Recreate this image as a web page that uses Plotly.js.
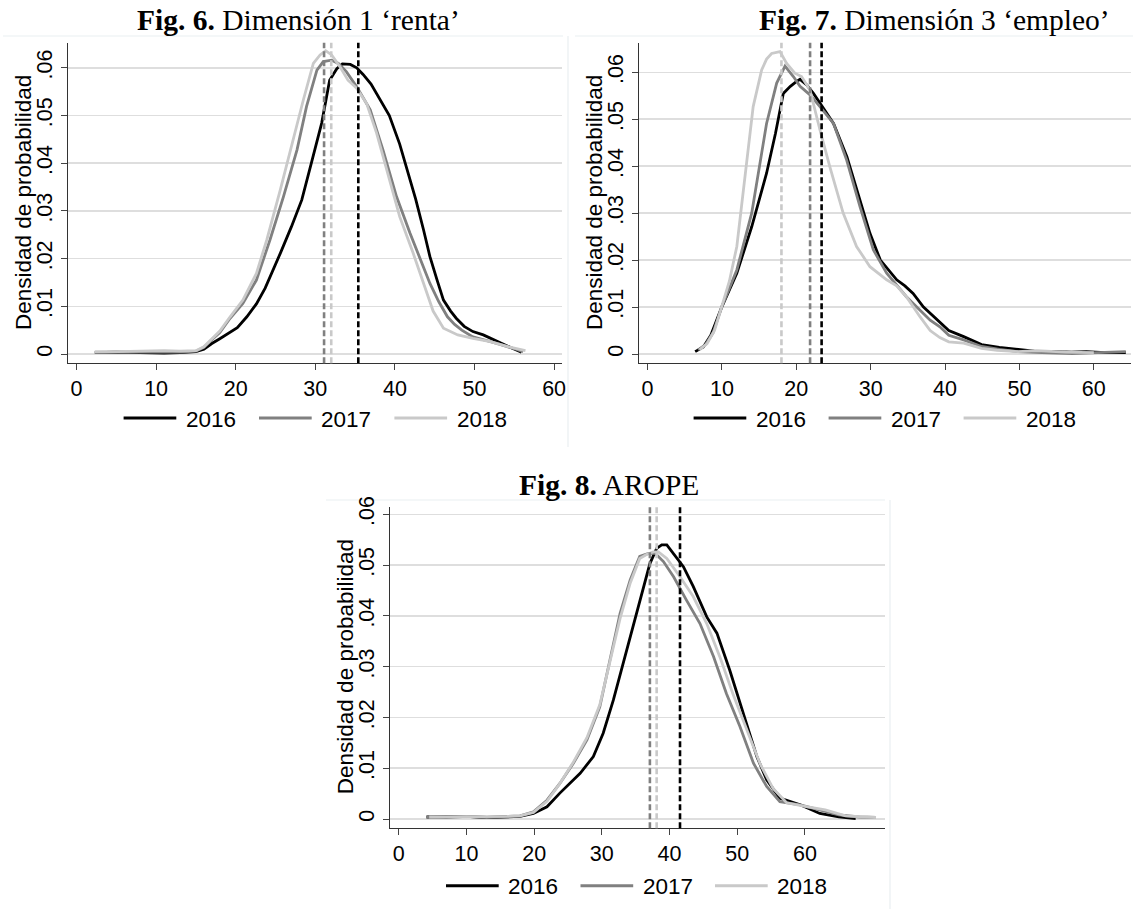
<!DOCTYPE html>
<html>
<head>
<meta charset="utf-8">
<script src="https://cdn.plot.ly/plotly-3.0.1.min.js"></script>
<style>html,body{margin:0;padding:0;background:#fff;}#chart{width:1133px;height:909px;}</style>
</head>
<body>
<div id="chart"></div>
<script>
// ---------------- DATA ----------------
const years = ['2016', '2017', '2018'];
const xTickVals = [0, 10, 20, 30, 40, 50, 60];
const yTickVals = [0, 0.01, 0.02, 0.03, 0.04, 0.05, 0.06];
const yTickText = ['0', '.01', '.02', '.03', '.04', '.05', '.06'];
const yTitle = 'Densidad de probabilidad';

// Fig. 6 – Dimensión 1 'renta'
const fig6Title = '<b>Fig. 6.</b> Dimensión 1 ‘renta’';
const fig6_x2016 = [2.3, 5, 8, 11, 13, 15, 16, 17, 18, 19.3, 20.2, 21.4, 22.6, 23.7, 24.6, 25.6, 27.0, 28.3, 29.5, 30.8, 31.8, 32.7, 33.4, 34.4, 35.2, 36.0, 37.0, 37.7, 38.5, 39.3, 40.6, 41.7, 42.6, 43.6, 44.4, 45.3, 46.1, 47.0, 47.7, 48.7, 49.8, 51.1, 52.2, 53.4, 54.6, 55.9];
const fig6_y2016 = [0.0003, 0.0004, 0.0003, 0.0002, 0.0003, 0.0005, 0.0010, 0.0022, 0.0032, 0.0045, 0.0055, 0.0078, 0.0105, 0.0138, 0.0172, 0.0211, 0.0267, 0.0323, 0.0400, 0.0484, 0.0574, 0.0598, 0.0608, 0.0607, 0.0600, 0.0586, 0.0566, 0.0545, 0.0522, 0.0500, 0.0440, 0.0375, 0.0325, 0.0260, 0.0204, 0.0155, 0.0113, 0.0090, 0.0075, 0.0058, 0.0047, 0.0040, 0.0031, 0.0022, 0.0013, 0.0004];
const fig6_x2017 = [2.3, 5, 8, 11, 13, 15, 16, 17, 18, 19.3, 20.9, 22.6, 24.3, 26.0, 27.7, 28.9, 30.2, 31.0, 32.05, 32.9, 33.9, 35.2, 36.9, 38.5, 40.2, 41.9, 43.6, 44.4, 45.5, 46.6, 47.5, 48.4, 49.8, 51.0, 52.0, 53.2, 54.3, 55.2, 56.1];
const fig6_y2017 = [0.0004, 0.0004, 0.0005, 0.0004, 0.0004, 0.0006, 0.0014, 0.0030, 0.0045, 0.0075, 0.0106, 0.0155, 0.0239, 0.0330, 0.0428, 0.0519, 0.0595, 0.0613, 0.0616, 0.0609, 0.0592, 0.0560, 0.0512, 0.0428, 0.0330, 0.0253, 0.0183, 0.0148, 0.0110, 0.0078, 0.0062, 0.0050, 0.0036, 0.0031, 0.0026, 0.0020, 0.0015, 0.0010, 0.0005];
const fig6_x2018 = [2.3, 5, 8, 11, 13, 15, 16, 17, 18, 19.3, 20.9, 22.6, 23.9, 25.6, 27.2, 28.5, 29.75, 30.6, 31.3, 32.05, 33.1, 34.1, 35.2, 36.45, 37.7, 39.0, 40.6, 42.3, 44.0, 44.8, 46.1, 47.9, 49.8, 52.0, 54.3, 56.4];
const fig6_y2018 = [0.0004, 0.0005, 0.0007, 0.0007, 0.0006, 0.0007, 0.0015, 0.0032, 0.0048, 0.0078, 0.0113, 0.0169, 0.0239, 0.0344, 0.0449, 0.0533, 0.0609, 0.0627, 0.0636, 0.0627, 0.0602, 0.0574, 0.0557, 0.0525, 0.0463, 0.0386, 0.0288, 0.0211, 0.0127, 0.0090, 0.0054, 0.0040, 0.0033, 0.0026, 0.0015, 0.0007];
const fig6_means = [35.4, 31.1, 32.0];

// Fig. 7 – Dimensión 3 'empleo'
const fig7Title = '<b>Fig. 7.</b> Dimensión 3 ‘empleo’';
const fig7_x2016 = [6.4, 7.5, 8.5, 10.0, 12.0, 14.0, 16.0, 17.2, 18.25, 19.2, 20.0, 20.5, 21.4, 22.3, 23.2, 25.0, 26.8, 28.6, 29.9, 31.3, 32.4, 33.5, 34.6, 35.7, 37.1, 38.5, 40.5, 42.5, 44.9, 47.3, 49.8, 52.0, 54.7, 57.0, 59.0, 61.5, 64.3];
const fig7_y2016 = [0.0005, 0.0015, 0.0040, 0.0101, 0.0172, 0.0271, 0.0385, 0.0470, 0.0555, 0.0570, 0.0580, 0.0585, 0.0573, 0.0555, 0.0534, 0.0491, 0.0420, 0.0328, 0.0257, 0.0200, 0.0180, 0.0158, 0.0145, 0.0129, 0.0100, 0.0080, 0.0050, 0.0037, 0.0020, 0.0014, 0.0010, 0.0006, 0.0005, 0.0004, 0.0005, 0.0003, 0.0003];
const fig7_x2017 = [6.8, 7.8, 8.8, 10.0, 12.0, 14.0, 16.0, 17.36, 18.48, 19.6, 20.5, 21.84, 23.18, 25.0, 26.77, 28.56, 30.35, 32.15, 34.8, 36.5, 38.0, 39.3, 40.5, 42.5, 44.9, 47.3, 49.8, 53.0, 57.1, 60.5, 64.3];
const fig7_y2017 = [0.0009, 0.0020, 0.0045, 0.0101, 0.0179, 0.0300, 0.0491, 0.0577, 0.0613, 0.0591, 0.0570, 0.0552, 0.0527, 0.0491, 0.0413, 0.0314, 0.0222, 0.0172, 0.0122, 0.0095, 0.0072, 0.0058, 0.0040, 0.0030, 0.0016, 0.0010, 0.0005, 0.0003, 0.0001, 0.0003, 0.0005];
const fig7_x2018 = [7.0, 8.0, 9.0, 10.0, 11.0, 12.0, 13.3, 14.2, 15.34, 16.0, 16.68, 17.8, 18.7, 19.8, 20.7, 21.84, 23.18, 24.5, 26.3, 28.1, 29.9, 32.15, 33.5, 34.8, 36.6, 38.0, 39.3, 40.5, 42.5, 44.9, 47.0, 49.8, 52.3, 56.2, 60.0];
const fig7_y2018 = [0.0009, 0.0022, 0.0050, 0.0101, 0.0155, 0.0229, 0.0400, 0.0527, 0.0605, 0.0628, 0.0640, 0.0644, 0.0619, 0.0598, 0.0591, 0.0562, 0.0477, 0.0399, 0.0300, 0.0229, 0.0186, 0.0158, 0.0145, 0.0122, 0.0080, 0.0050, 0.0035, 0.0026, 0.0023, 0.0012, 0.0008, 0.0005, 0.0007, 0.0004, 0.0003];
const fig7_means = [23.4, 21.85, 18.0];

// Fig. 8 – AROPE
const fig8Title = '<b>Fig. 8.</b> AROPE';
const fig8_x2016 = [4.1, 7, 10, 13, 16, 17.92, 19.9, 21.9, 23.8, 25.3, 26.8, 28.75, 30.2, 31.7, 33.7, 35.6, 37.1, 38.1, 38.85, 39.6, 40.6, 42.05, 43.5, 45.5, 47.0, 48.9, 50.9, 52.9, 54.35, 56.3, 59.3, 62.2, 65.0, 67.5];
const fig8_y2016 = [0.0004, 0.0004, 0.0005, 0.0003, 0.0004, 0.0005, 0.0011, 0.0024, 0.0051, 0.0070, 0.0090, 0.0123, 0.0169, 0.0234, 0.0333, 0.0431, 0.0503, 0.0533, 0.0540, 0.0540, 0.0523, 0.0497, 0.0458, 0.0398, 0.0366, 0.0293, 0.0208, 0.0123, 0.0077, 0.0041, 0.0028, 0.0011, 0.0004, 0.0001];
const fig8_x2017 = [4.1, 7, 10, 13, 16, 17.92, 19.9, 21.9, 23.8, 25.8, 27.8, 29.7, 31.2, 32.7, 34.2, 35.6, 36.9, 37.9, 39.1, 40.6, 42.5, 44.5, 46.5, 48.4, 50.4, 52.4, 54.35, 56.3, 59.3, 62.2, 65.0, 68.0, 70.5];
const fig8_y2017 = [0.0004, 0.0003, 0.0005, 0.0003, 0.0005, 0.0006, 0.0014, 0.0037, 0.0070, 0.0110, 0.0156, 0.0221, 0.0313, 0.0405, 0.0471, 0.0517, 0.0523, 0.0523, 0.0507, 0.0477, 0.0431, 0.0385, 0.0320, 0.0247, 0.0182, 0.0110, 0.0064, 0.0034, 0.0028, 0.0018, 0.0008, 0.0004, 0.0003];
const fig8_x2018 = [4.5, 7, 10, 13, 16, 17.92, 19.9, 21.9, 23.8, 25.8, 27.8, 29.7, 31.2, 32.7, 34.2, 35.6, 36.6, 37.6, 38.35, 39.6, 41.55, 43.5, 45.5, 47.5, 49.4, 51.4, 53.4, 55.3, 57.3, 60.0, 63.0, 66.0, 70.5];
const fig8_y2018 = [0.0004, 0.0004, 0.0005, 0.0004, 0.0005, 0.0006, 0.0013, 0.0035, 0.0070, 0.0112, 0.0160, 0.0225, 0.0310, 0.0395, 0.0465, 0.0513, 0.0521, 0.0526, 0.0526, 0.0513, 0.0477, 0.0438, 0.0385, 0.0317, 0.0245, 0.0178, 0.0108, 0.0060, 0.0032, 0.0025, 0.0018, 0.0006, 0.0003];
const fig8_means = [41.55, 37.1, 38.1];

// ---------------- STYLE / LAYOUT ----------------
const W = 1133, H = 909;
const colors = ['#000000', '#808080', '#c9c9c9'];
const px = v => v / W;
const py = v => 1 - v / H;

const panels = [
  { title: fig6Title, xs: [fig6_x2016, fig6_x2017, fig6_x2018], ys: [fig6_y2016, fig6_y2017, fig6_y2018], means: fig6_means,
    plot: { l: 67.6, r: 561.6, t: 42.7, b: 363.3 }, xr: [-1.12, 60.94], yr: [-0.00195, 0.06526],
    titlePos: [298, 20], yTitlePos: [23.5, 202.5], leg: { x0: 123.6, y: 418, step: 135.4 } },
  { title: fig7Title, xs: [fig7_x2016, fig7_x2017, fig7_x2018], ys: [fig7_y2016, fig7_y2017, fig7_y2018], means: fig7_means,
    plot: { l: 638.5, r: 1131, t: 42.7, b: 363.3 }, xr: [-1.22, 65.0], yr: [-0.00198, 0.0663],
    titlePos: [934.5, 20], yTitlePos: [594.5, 202.5], leg: { x0: 693.6, y: 418, step: 135.0 } },
  { title: fig8Title, xs: [fig8_x2016, fig8_x2017, fig8_x2018], ys: [fig8_y2016, fig8_y2017, fig8_y2018], means: fig8_means,
    plot: { l: 390, r: 885, t: 506.7, b: 828.3 }, xr: [-1.29, 71.83], yr: [-0.00183, 0.0615],
    titlePos: [609, 485], yTitlePos: [345.5, 666.7], leg: { x0: 446, y: 885.7, step: 134.5 } }
];

const traces = [];
const shapes = [];
const annotations = [];
const layout = {
  width: W, height: H,
  margin: { l: 0, r: 0, t: 0, b: 0 },
  paper_bgcolor: '#ffffff', plot_bgcolor: '#ffffff',
  showlegend: false,
  font: { family: 'Liberation Sans, Arial, sans-serif', color: '#000' }
};

// faint panel frames
const frameColor = '#e9eff1';
[[3, 36, 563, 36], [568, 36, 568, 447], [575, 36, 1133, 36], [326, 500, 885, 500], [890, 500, 890, 909]].forEach(s => {
  shapes.push({ type: 'line', xref: 'paper', yref: 'paper', x0: px(s[0]), y0: py(s[1]), x1: px(s[2]), y1: py(s[3]),
    line: { color: frameColor, width: 1.2 }, layer: 'below' });
});

panels.forEach((p, i) => {
  const n = i === 0 ? '' : String(i + 1);
  const xa = 'x' + n, ya = 'y' + n;
  layout['xaxis' + n] = {
    domain: [px(p.plot.l), px(p.plot.r)], range: p.xr, anchor: ya,
    tickmode: 'array', tickvals: xTickVals, ticks: 'outside', ticklen: 6, tickwidth: 1, tickcolor: '#444',
    showline: true, linecolor: '#333', linewidth: 1, showgrid: false, zeroline: false,
    tickfont: { family: 'Liberation Sans, Arial', size: 21.5, color: '#000' }, fixedrange: true
  };
  layout['yaxis' + n] = {
    domain: [py(p.plot.b), py(p.plot.t)], range: p.yr, anchor: xa,
    tickmode: 'array', tickvals: yTickVals, ticktext: yTickText, tickangle: -90,
    ticks: 'outside', ticklen: 6, tickwidth: 1, tickcolor: '#444',
    showline: true, linecolor: '#333', linewidth: 1,
    showgrid: true, gridcolor: '#dedede', gridwidth: 1.5, zeroline: false,
    tickfont: { family: 'Liberation Sans, Arial', size: 21.5, color: '#000' }, fixedrange: true
  };
  // mean lines
  p.means.forEach((m, k) => {
    shapes.push({ type: 'line', xref: xa, yref: ya + ' domain', x0: m, x1: m, y0: 0, y1: 1,
      line: { color: colors[k], width: 2.6, dash: '6px,3px' }, layer: 'above' });
  });
  // curves
  years.forEach((yr, k) => {
    traces.push({ type: 'scatter', mode: 'lines', x: p.xs[k], y: p.ys[k], name: yr, xaxis: xa, yaxis: ya,
      line: { color: colors[k], width: 2.8 }, hoverinfo: 'skip' });
  });
  // title
  annotations.push({ xref: 'paper', yref: 'paper', x: px(p.titlePos[0]), y: py(p.titlePos[1]),
    xanchor: 'center', yanchor: 'middle', showarrow: false, text: p.title,
    font: { family: 'Liberation Serif, Times New Roman, serif', size: 29.5, color: '#000' } });
  // y title
  annotations.push({ xref: 'paper', yref: 'paper', x: px(p.yTitlePos[0]), y: py(p.yTitlePos[1]),
    xanchor: 'center', yanchor: 'middle', showarrow: false, text: yTitle, textangle: -90,
    font: { family: 'Liberation Sans, Arial', size: 22.5, color: '#000' } });
  // legend
  years.forEach((yr, k) => {
    const lx0 = p.leg.x0 + k * p.leg.step;
    shapes.push({ type: 'line', xref: 'paper', yref: 'paper', x0: px(lx0), x1: px(lx0 + 52.7), y0: py(p.leg.y), y1: py(p.leg.y),
      line: { color: colors[k], width: 3 } });
    annotations.push({ xref: 'paper', yref: 'paper', x: px(lx0 + 87.4), y: py(p.leg.y + 1), xanchor: 'center', yanchor: 'middle',
      showarrow: false, text: yr, font: { family: 'Liberation Sans, Arial', size: 22.5, color: '#000' } });
  });
});

layout.shapes = shapes;
layout.annotations = annotations;
Plotly.newPlot('chart', traces, layout, { staticPlot: true, displayModeBar: false });
</script>
</body>
</html>
